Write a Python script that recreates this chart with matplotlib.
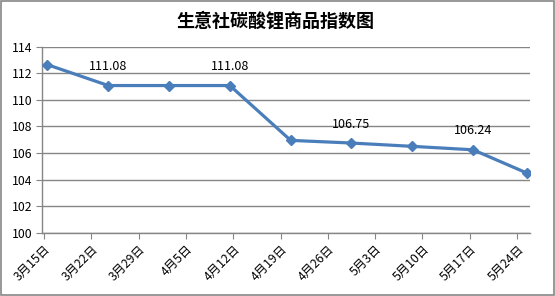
import matplotlib
matplotlib.use("Agg")
import matplotlib.pyplot as plt

plt.rcParams['font.family'] = ['Noto Sans CJK SC', 'DejaVu Sans']

# 数据
tick_days = [0, 7, 14, 21, 28, 35, 42, 49, 56, 63, 70]
tick_labels = ['3月15日', '3月22日', '3月29日', '4月5日', '4月12日', '4月19日',
               '4月26日', '5月3日', '5月10日', '5月17日', '5月24日']
point_days = [0, 9, 18, 27, 36, 45, 54, 63, 71]   # 相对 3月15日 的天数
index_values = [112.65, 111.08, 111.08, 111.08, 106.95, 106.75, 106.50, 106.24, 104.48]
labeled = [1, 3, 5, 7]   # 显示数值的点

fig = plt.figure(figsize=(5.55, 2.96), dpi=100)
ax = fig.add_axes([0.0757, 0.214, 0.879, 0.628])

x = [d + 0.5 for d in point_days]
ax.plot(x, index_values, color='#4A7EBB', lw=2.3, marker='D', ms=5,
        markerfacecolor='#4A7EBB', markeredgecolor='#4A7EBB', zorder=3)

for i in labeled:
    ax.annotate(f'{index_values[i]:.2f}', (x[i], index_values[i]),
                xytext=(0, 9), textcoords='offset points',
                ha='center', va='bottom', fontsize=9, color='black')

ax.set_xlim(-0.3, 71.9)
ax.set_ylim(100, 114)
ax.set_yticks(range(100, 115, 2))
ax.set_xticks(tick_days)
ax.set_xticklabels(tick_labels, rotation=45, ha='right', va='top',
                   rotation_mode='anchor', fontsize=8.8)
ax.tick_params(axis='y', labelsize=8.8, length=4, color='#868686', pad=3)
ax.tick_params(axis='x', length=4, color='#868686', pad=3)

ax.grid(axis='y', color='#868686', lw=1)
ax.set_axisbelow(True)
for s in ['top', 'right']:
    ax.spines[s].set_visible(False)
for s in ['left', 'bottom']:
    ax.spines[s].set_color('#868686')
    ax.spines[s].set_linewidth(1)

fig.text(0.497, 0.928, '生意社碳酸锂商品指数图', ha='center', va='center',
         fontsize=13, fontweight='bold')

fig.add_artist(plt.Rectangle((0.001, 0.002), 0.997, 0.996, transform=fig.transFigure,
                             fill=False, edgecolor='#868686', lw=1.2))

fig.savefig('out.png', dpi=100)
